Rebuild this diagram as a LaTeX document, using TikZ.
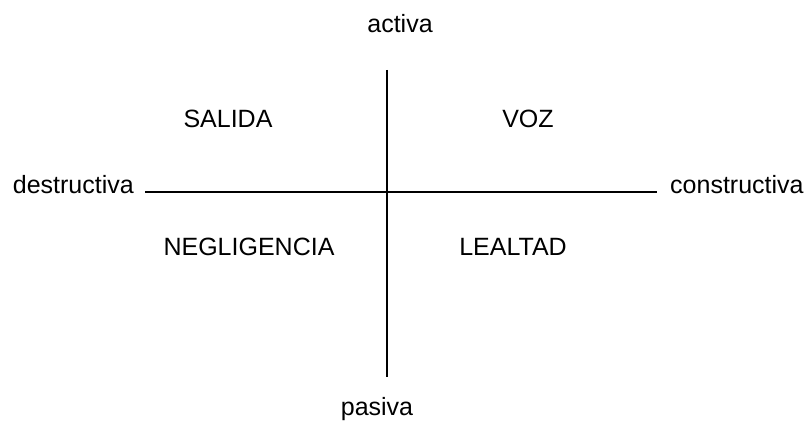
\documentclass[tikz,border=0pt]{standalone}
\usepackage{fontspec}
\setmainfont{Liberation Sans}
\usetikzlibrary{positioning}

\tikzset{
  eje/.style={line width=1.3pt},
  etiq/.style={anchor=base, inner sep=0pt, font=\fontsize{25}{30}\selectfont}
}

\begin{document}
\begin{tikzpicture}[x=1pt,y=1pt]
  \useasboundingbox (0,0) rectangle (810,421);
  % ejes
  \coordinate (izq) at (145,229);
  \coordinate (der) at (657,229);
  \coordinate (arr) at (387,351);
  \coordinate (aba) at (387,44);
  \draw[eje] (izq)--(der);
  \draw[eje] (arr)--(aba);
  % extremos
  \node[etiq, anchor=base east] (destr) at (134,228) {destructiva};
  \node[etiq, anchor=base west] (constr) at (670,228) {constructiva};
  \node[etiq] (activa) at (400,388) {activa};
  \node[etiq] (pasiva) at (377,6) {pasiva};
  % cuadrantes
  \node[etiq] (salida) at (228,293) {SALIDA};
  \node[etiq] (voz) at (528,293) {VOZ};
  \node[etiq] (negli) at (249,166) {NEGLIGENCIA};
  \node[etiq] (lealtad) at (513,166) {LEALTAD};
\end{tikzpicture}
\end{document}
